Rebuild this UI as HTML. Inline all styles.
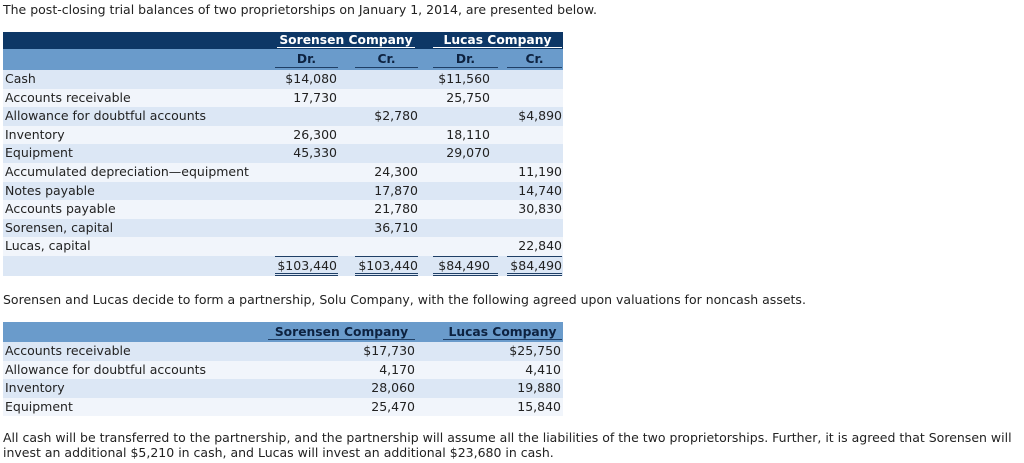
<!DOCTYPE html>
<html><head><style>
body{margin:0;width:1024px;height:463px;background:#fff;position:relative;font-family:"DejaVu Sans","Liberation Sans",sans-serif;font-size:12.5px;color:#222;overflow:hidden}
.a{position:absolute;white-space:nowrap}
.r{position:absolute;left:3px;width:560px;height:18.6px}
.L{background:#dce7f5}.W{background:#f1f5fb}
.t{position:absolute;line-height:18.6px;white-space:nowrap}
.v{position:absolute;line-height:18.6px;text-align:right;white-space:nowrap}
.ul{position:absolute;border-bottom:1.5px solid #1f3f66}
.hd{font-weight:bold;text-align:center;font-size:12.3px}
</style></head><body>
<div class="a" style="left:3px;top:2px">The post-closing trial balances of two proprietorships on January 1, 2014, are presented below.</div>

<div class="a" style="left:3px;top:32px;width:560px;height:17px;background:#0d3766"></div>
<div class="a" style="left:3px;top:49px;width:560px;height:21px;background:#6a9bcb"></div>
<div class="a hd" style="left:272px;width:148px;top:33px;color:#fff">Sorensen Company</div>
<div class="ul" style="left:277px;width:138px;top:33px;height:14px;border-color:#fff"></div>
<div class="a hd" style="left:433px;width:129px;top:33px;color:#fff">Lucas Company</div>
<div class="ul" style="left:433px;width:129px;top:33px;height:14px;border-color:#fff"></div>
<div class="a hd" style="left:275px;width:63px;top:52px;color:#0d2240">Dr.</div>
<div class="a hd" style="left:355px;width:63px;top:52px;color:#0d2240">Cr.</div>
<div class="a hd" style="left:433px;width:65px;top:52px;color:#0d2240">Dr.</div>
<div class="a hd" style="left:507px;width:55px;top:52px;color:#0d2240">Cr.</div>
<div class="ul" style="left:275px;width:63px;top:52px;height:15px"></div>
<div class="ul" style="left:355px;width:63px;top:52px;height:15px"></div>
<div class="ul" style="left:433px;width:65px;top:52px;height:15px"></div>
<div class="ul" style="left:507px;width:55px;top:52px;height:15px"></div>

<div class="r L" style="top:70px"></div>
<div class="r W" style="top:88.6px"></div>
<div class="r L" style="top:107.2px"></div>
<div class="r W" style="top:125.8px"></div>
<div class="r L" style="top:144.4px"></div>
<div class="r W" style="top:163px"></div>
<div class="r L" style="top:181.6px"></div>
<div class="r W" style="top:200.2px"></div>
<div class="r L" style="top:218.8px"></div>
<div class="r W" style="top:237.4px"></div>
<div class="r L" style="top:256px;height:20px"></div>

<div class="t" style="left:5px;top:70px">Cash</div>
<div class="t" style="left:5px;top:88.6px">Accounts receivable</div>
<div class="t" style="left:5px;top:107.2px">Allowance for doubtful accounts</div>
<div class="t" style="left:5px;top:125.8px">Inventory</div>
<div class="t" style="left:5px;top:144.4px">Equipment</div>
<div class="t" style="left:5px;top:163px">Accumulated depreciation—equipment</div>
<div class="t" style="left:5px;top:181.6px">Notes payable</div>
<div class="t" style="left:5px;top:200.2px">Accounts payable</div>
<div class="t" style="left:5px;top:218.8px">Sorensen, capital</div>
<div class="t" style="left:5px;top:237.4px">Lucas, capital</div>

<div class="v" style="right:687px;top:70px">$14,080</div>
<div class="v" style="right:687px;top:88.6px">17,730</div>
<div class="v" style="right:687px;top:125.8px">26,300</div>
<div class="v" style="right:687px;top:144.4px">45,330</div>
<div class="v" style="right:606px;top:107.2px">$2,780</div>
<div class="v" style="right:606px;top:163px">24,300</div>
<div class="v" style="right:606px;top:181.6px">17,870</div>
<div class="v" style="right:606px;top:200.2px">21,780</div>
<div class="v" style="right:606px;top:218.8px">36,710</div>
<div class="v" style="right:534px;top:70px">$11,560</div>
<div class="v" style="right:534px;top:88.6px">25,750</div>
<div class="v" style="right:534px;top:125.8px">18,110</div>
<div class="v" style="right:534px;top:144.4px">29,070</div>
<div class="v" style="right:462px;top:107.2px">$4,890</div>
<div class="v" style="right:462px;top:163px">11,190</div>
<div class="v" style="right:462px;top:181.6px">14,740</div>
<div class="v" style="right:462px;top:200.2px">30,830</div>
<div class="v" style="right:462px;top:237.4px">22,840</div>

<div class="ul" style="left:275px;width:63px;top:256px;height:0"></div>
<div class="ul" style="left:355px;width:63px;top:256px;height:0"></div>
<div class="ul" style="left:433px;width:65px;top:256px;height:0"></div>
<div class="ul" style="left:507px;width:55px;top:256px;height:0"></div>
<div class="v" style="right:687px;top:257px">$103,440</div>
<div class="v" style="right:606px;top:257px">$103,440</div>
<div class="v" style="right:534px;top:257px">$84,490</div>
<div class="v" style="right:462px;top:257px">$84,490</div>
<div class="a" style="left:275px;width:63px;top:273px;border-top:1px solid #1f3f66;border-bottom:1px solid #1f3f66;height:1px"></div>
<div class="a" style="left:355px;width:63px;top:273px;border-top:1px solid #1f3f66;border-bottom:1px solid #1f3f66;height:1px"></div>
<div class="a" style="left:433px;width:65px;top:273px;border-top:1px solid #1f3f66;border-bottom:1px solid #1f3f66;height:1px"></div>
<div class="a" style="left:507px;width:55px;top:273px;border-top:1px solid #1f3f66;border-bottom:1px solid #1f3f66;height:1px"></div>

<div class="a" style="left:3px;top:292px">Sorensen and Lucas decide to form a partnership, Solu Company, with the following agreed upon valuations for noncash assets.</div>

<div class="a" style="left:3px;top:322px;width:560px;height:20px;background:#6a9bcb"></div>
<div class="a hd" style="left:266px;width:151px;top:325px;color:#0d2240">Sorensen Company</div>
<div class="ul" style="left:268px;width:147px;top:325px;height:14px"></div>
<div class="a hd" style="left:443px;width:119px;top:325px;color:#0d2240">Lucas Company</div>
<div class="ul" style="left:443px;width:119px;top:325px;height:14px"></div>
<div class="r L" style="top:342px"></div>
<div class="r W" style="top:360.6px"></div>
<div class="r L" style="top:379.2px"></div>
<div class="r W" style="top:397.8px"></div>
<div class="t" style="left:5px;top:342px">Accounts receivable</div>
<div class="t" style="left:5px;top:360.6px">Allowance for doubtful accounts</div>
<div class="t" style="left:5px;top:379.2px">Inventory</div>
<div class="t" style="left:5px;top:397.8px">Equipment</div>
<div class="v" style="right:609px;top:342px">$17,730</div>
<div class="v" style="right:609px;top:360.6px">4,170</div>
<div class="v" style="right:609px;top:379.2px">28,060</div>
<div class="v" style="right:609px;top:397.8px">25,470</div>
<div class="v" style="right:463px;top:342px">$25,750</div>
<div class="v" style="right:463px;top:360.6px">4,410</div>
<div class="v" style="right:463px;top:379.2px">19,880</div>
<div class="v" style="right:463px;top:397.8px">15,840</div>

<div class="a" style="left:3px;top:430px">All cash will be transferred to the partnership, and the partnership will assume all the liabilities of the two proprietorships. Further, it is agreed that Sorensen will</div>
<div class="a" style="left:3px;top:445px">invest an additional $5,210 in cash, and Lucas will invest an additional $23,680 in cash.</div>
</body></html>
